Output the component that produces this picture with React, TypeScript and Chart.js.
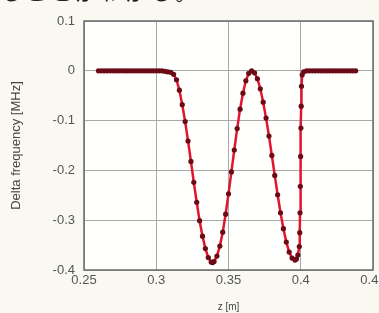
import React, { useEffect, useRef } from "react";
import { Chart, registerables } from "chart.js";

Chart.register(...registerables);

// z positions [m]
const zFlatLeft = [0.26, 0.262, 0.264, 0.266, 0.268, 0.27, 0.272, 0.274, 0.276, 0.278, 0.28, 0.282, 0.284, 0.286, 0.288, 0.29, 0.292, 0.294, 0.296, 0.298, 0.3, 0.302, 0.304, 0.306, 0.308];
const dfFlatLeft = [0, 0, 0, 0, 0, 0, 0, 0, 0, 0, 0, 0, 0, 0, 0, 0, 0, 0, 0, 0, 0, 0, 0, -0.001, -0.002];

const zDip1 = [0.31, 0.312, 0.314, 0.316, 0.318, 0.32, 0.322, 0.324, 0.326, 0.328, 0.33, 0.332, 0.334, 0.336, 0.338, 0.339];
const dfDip1 = [-0.003, -0.007, -0.018, -0.039, -0.068, -0.102, -0.141, -0.182, -0.224, -0.264, -0.301, -0.332, -0.357, -0.375, -0.384, -0.385];

const zRise1 = [0.34, 0.342, 0.344, 0.346, 0.348, 0.35, 0.352, 0.354, 0.356, 0.358, 0.36, 0.362, 0.364, 0.366];
const dfRise1 = [-0.383, -0.372, -0.352, -0.324, -0.288, -0.247, -0.203, -0.159, -0.116, -0.077, -0.045, -0.02, -0.005, 0.0];

const zDip2 = [0.368, 0.37, 0.372, 0.374, 0.376, 0.378, 0.38, 0.382, 0.384, 0.386, 0.388, 0.39, 0.392, 0.394, 0.396, 0.397, 0.398];
const dfDip2 = [-0.004, -0.016, -0.036, -0.063, -0.095, -0.131, -0.17, -0.21, -0.249, -0.285, -0.317, -0.344, -0.364, -0.376, -0.38, -0.378, -0.37];

const zJump = [0.399, 0.3993, 0.3995, 0.3997, 0.3999, 0.4001, 0.4003, 0.4005, 0.401, 0.402];
const dfJump = [-0.353, -0.325, -0.285, -0.232, -0.172, -0.115, -0.071, -0.031, -0.008, -0.002];

const zFlatRight = [0.404, 0.406, 0.408, 0.41, 0.412, 0.414, 0.416, 0.418, 0.42, 0.422, 0.424, 0.426, 0.428, 0.43, 0.432, 0.434, 0.436, 0.438];
const dfFlatRight = [0, 0, 0, 0, 0, 0, 0, 0, 0, 0, 0, 0, 0, 0, 0, 0, 0, 0];

const zValues = [...zFlatLeft, ...zDip1, ...zRise1, ...zDip2, ...zJump, ...zFlatRight];
const deltaFreq = [...dfFlatLeft, ...dfDip1, ...dfRise1, ...dfDip2, ...dfJump, ...dfFlatRight];

const xTickLabels = ["0.25", "0.3", "0.35", "0.4", "0.45"];
const yTickLabels = ["0.1", "0", "-0.1", "-0.2", "-0.3", "-0.4"];

const xTitle = "z [m]";
const yTitle = "Delta frequency [MHz]";
const topText = "ることがわかる。";

const framePlugin = {
  id: "frame",
  beforeDraw(chart: any) {
    const { ctx, chartArea } = chart;
    ctx.save();
    ctx.fillStyle = "#fffffd";
    ctx.fillRect(chartArea.left, chartArea.top, chartArea.right - chartArea.left, chartArea.bottom - chartArea.top);
    ctx.restore();
  },
  afterDraw(chart: any) {
    const { ctx, chartArea } = chart;
    ctx.save();
    ctx.strokeStyle = "#6a6a6a";
    ctx.lineWidth = 1.5;
    ctx.strokeRect(chartArea.left, chartArea.top, chartArea.right - chartArea.left, chartArea.bottom - chartArea.top);
    ctx.restore();
  },
};

export default function App() {
  const ref = useRef<HTMLCanvasElement | null>(null);

  useEffect(() => {
    document.body.style.margin = "0";
    document.body.style.overflow = "hidden";
    const canvas = ref.current;
    if (!canvas) return;
    const points = zValues.map((z, i) => ({ x: z, y: deltaFreq[i] }));
    const chart = new Chart(canvas, {
      type: "scatter",
      data: {
        datasets: [
          {
            data: points,
            showLine: true,
            borderColor: "#e3142e",
            borderWidth: 2.5,
            pointRadius: 2.6,
            pointBackgroundColor: "#6a0b16",
            pointBorderWidth: 0,
            pointHoverRadius: 2.6,
          },
        ],
      },
      options: {
        responsive: false,
        animation: false,
        layout: { padding: { top: 21, right: 27, bottom: 0, left: 0 } },
        plugins: { legend: { display: false }, tooltip: { enabled: false } },
        scales: {
          x: {
            type: "linear",
            min: 0.25,
            max: 0.45,
            afterBuildTicks: (scale: any) => {
              scale.ticks = xTickLabels.map((t) => ({ value: parseFloat(t) }));
            },
            afterFit: (scale: any) => {
              scale.height = 43;
            },
            ticks: {
              padding: 3,
              color: "#555",
              font: { family: "Liberation Sans, Arial, sans-serif", size: 13 },
              maxRotation: 0,
              callback: (v: any) => {
                const s = xTickLabels.find((t) => Math.abs(parseFloat(t) - v) < 1e-6);
                return s ?? "";
              },
            },
            grid: { color: "#a8a8a8", lineWidth: 1, drawTicks: false },
            border: { display: false },
            title: {
              display: true,
              text: xTitle,
              color: "#444",
              font: { family: "Liberation Sans, Arial, sans-serif", size: 10 },
              padding: { top: 0, bottom: 0 },
            },
          },
          y: {
            type: "linear",
            min: -0.4,
            max: 0.1,
            afterBuildTicks: (scale: any) => {
              scale.ticks = yTickLabels.map((t) => ({ value: parseFloat(t) }));
            },
            afterFit: (scale: any) => {
              scale.width = 84;
            },
            ticks: {
              padding: 9,
              color: "#555",
              font: { family: "Liberation Sans, Arial, sans-serif", size: 13 },
              callback: (v: any) => {
                const s = yTickLabels.find((t) => Math.abs(parseFloat(t) - v) < 1e-6);
                return s ?? "";
              },
            },
            grid: { color: "#a8a8a8", lineWidth: 1, drawTicks: false },
            border: { display: false },
            title: {
              display: true,
              text: yTitle,
              color: "#444",
              font: { family: "Liberation Sans, Arial, sans-serif", size: 13 },
              padding: { top: 9, bottom: 0 },
            },
          },
        },
      },
      plugins: [framePlugin],
    });
    return () => chart.destroy();
  }, []);

  return (
    <div
      style={{
        position: "absolute",
        left: 0,
        top: 0,
        width: 379,
        height: 313,
        overflow: "hidden",
        background: "#f9f9f1",
      }}
    >
      <canvas ref={ref} width={400} height={313} style={{ position: "absolute", left: 0, top: 0 }} />
      <div
        style={{
          position: "absolute",
          left: 0,
          top: -24,
          fontFamily: "'Noto Sans CJK JP', sans-serif",
          fontSize: 22,
          letterSpacing: 3,
          color: "#222",
          whiteSpace: "nowrap",
          lineHeight: "28px",
        }}
      >
        {topText}
      </div>
    </div>
  );
}
